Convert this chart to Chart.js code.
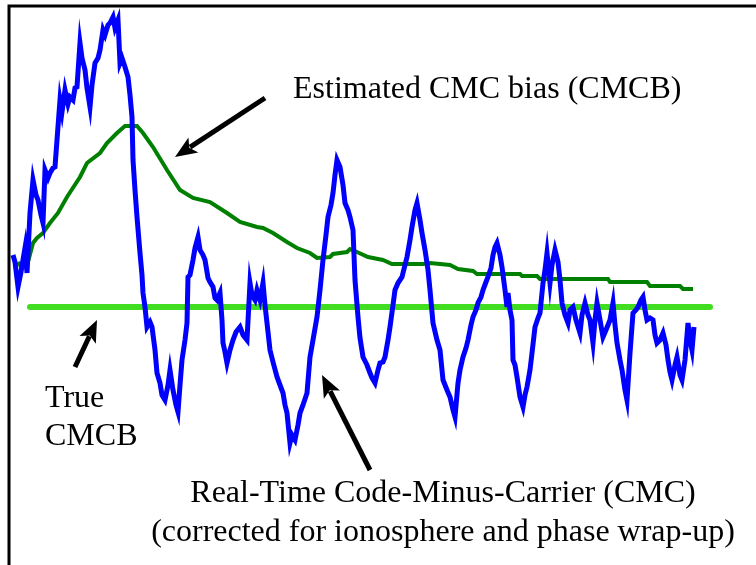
<!DOCTYPE html>
<html>
<head>
<meta charset="utf-8">
<script src="https://cdn.jsdelivr.net/npm/chart.js@4"></script>
<style>
  body { margin: 0; background: #fff; }
  canvas { display: block; }
</style>
</head>
<body>
<canvas id="cmcChart" width="756" height="565"></canvas>
<script>
// time axis (arbitrary units) and values
const cmcTime = [
  13, 15, 18, 21, 25, 27, 30, 33, 36, 38,
  41, 43, 45, 48, 50, 53, 55, 57, 60, 62,
  65, 68, 70, 73, 75, 77, 80, 82, 85, 87,
  90, 92, 95, 98, 100, 103, 105, 108, 110, 113,
  115, 118, 120, 122, 125, 128, 130, 132, 133, 135,
  137, 140, 142, 143, 145, 147, 150, 152, 155, 157,
  160, 162, 165, 168, 170, 173, 176, 178, 180, 182,
  185, 187, 188, 190, 193, 195, 198, 200, 203, 205,
  208, 210, 213, 215, 217, 220, 222, 223, 225, 227,
  230, 233, 236, 240, 243, 247, 250, 252, 255, 257,
  260, 263, 265, 267, 270, 273, 277, 280, 283, 285,
  287, 290, 292, 295, 298, 300, 303, 307, 310, 313,
  317, 320, 323, 326, 328, 331, 333, 335, 337, 340,
  343, 345, 348, 350, 353, 355, 358, 360, 363, 367,
  370, 372, 375, 378, 380, 383, 385, 388, 390, 393,
  395, 398, 402, 405, 407, 410, 412, 415, 417, 420,
  422, 425, 428, 430, 433, 437, 440, 443, 447, 450,
  453, 455, 458, 460, 463, 466, 468, 471, 473, 476,
  478, 481, 483, 486, 488, 491, 493, 495, 497, 500,
  502, 505, 507, 508, 510, 512, 513, 515, 517, 520,
  523, 525, 527, 530, 532, 535, 538, 540, 543, 545,
  547, 550, 552, 555, 558, 560, 562, 565, 568, 570,
  573, 576, 580, 582, 585, 588, 590, 593, 595, 597,
  600, 603, 606, 610, 613, 615, 617, 620, 622, 625,
  627, 630, 633, 636, 638, 641, 643, 645, 647, 650,
  653, 655, 657, 660, 663, 666, 668, 670, 672, 675,
  677, 680, 682, 685, 688, 690, 692, 694
];
const cmcValues = [
  310, 303, 278, 293, 317, 292, 352, 385, 370, 365,
  350, 342, 395, 387, 392, 397, 398, 425, 465, 453,
  475, 461, 468, 465, 477, 478, 522, 507, 495, 477,
  458, 480, 502, 507, 515, 535, 530, 540, 542, 548,
  537, 545, 502, 507, 498, 488, 470, 448, 405, 375,
  348, 312, 290, 272, 258, 238, 243, 238, 215, 192,
  182, 170, 165, 180, 195, 175, 160, 153, 180, 205,
  225, 242, 288, 290, 305, 317, 328, 315, 310, 305,
  287, 283, 278, 267, 265, 272, 245, 222, 213, 202,
  215, 225, 233, 238, 230, 225, 282, 270, 265, 275,
  265, 282, 260, 242, 215, 203, 188, 180, 172, 160,
  152, 122, 130, 125, 140, 152, 160, 172, 208, 225,
  248, 275, 305, 330, 348, 360, 372, 390, 405, 398,
  380, 362, 355, 348, 335, 285, 248, 227, 208, 200,
  192, 187, 182, 195, 202, 203, 208, 225, 238, 260,
  275, 282, 288, 300, 308, 325, 338, 355, 362, 345,
  332, 315, 295, 275, 242, 225, 215, 185, 175, 168,
  155, 148, 182, 195, 208, 217, 225, 240, 248, 255,
  262, 268, 275, 283, 288, 297, 310, 318, 322, 310,
  298, 275, 258, 272, 255, 245, 205, 200, 188, 168,
  158, 170, 178, 195, 212, 238, 247, 252, 282, 295,
  312, 282, 300, 315, 303, 285, 262, 250, 242, 255,
  258, 245, 232, 250, 262, 250, 245, 222, 245, 262,
  245, 228, 235, 245, 262, 240, 222, 205, 195, 175,
  165, 212, 252, 255, 258, 265, 268, 255, 245, 247,
  245, 230, 222, 225, 232, 220, 205, 193, 185, 200,
  208, 190, 185, 205, 242, 225, 215, 238
];

const biasTime = [
  18, 22, 28, 33, 37, 43, 50, 58, 67, 80,
  87, 100, 107, 117, 125, 137, 143, 153, 167, 180,
  193, 210, 227, 240, 257, 263, 273, 287, 297, 310,
  317, 330, 333, 347, 350, 357, 368, 383, 392, 423,
  430, 450, 458, 473, 477, 520, 522, 537, 540, 608,
  610, 647, 650, 680, 683, 693
];
const biasValues = [
  303, 297, 303, 322, 327, 332, 342, 352, 368, 388,
  402, 412, 422, 432, 439, 439, 432, 418, 395, 375,
  367, 363, 352, 343, 338, 337, 332, 323, 317, 312,
  307, 308, 311, 313, 316, 313, 308, 305, 301, 301,
  302, 300, 296, 294, 291, 291, 289, 289, 286, 286,
  283, 283, 279, 279, 276, 276
];

const trueTime = [30, 710];
const trueValues = [258, 258];

// annotations, in the same units as the data
const labels = [
  { text: "Estimated CMC bias (CMCB)", x: 293, y: 467, align: "left" },
  { text: "True", x: 45, y: 158, align: "left" },
  { text: "CMCB", x: 45, y: 120, align: "left" },
  { text: "Real-Time Code-Minus-Carrier (CMC)", x: 443, y: 63, align: "center" },
  { text: "(corrected for ionosphere and phase wrap-up)", x: 443, y: 24, align: "center" },
];
const arrows = [
  { from: [265, 467], to: [175, 408] },
  { from: [75, 198], to: [97, 245] },
  { from: [370, 95], to: [322, 190] },
];

const toPoints = (xs, ys) => xs.map((x, i) => ({ x: x, y: ys[i] }));

const annotationPlugin = {
  id: "annotations",
  afterDraw(chart) {
    const ctx = chart.ctx;
    const xs = chart.scales.x;
    const ys = chart.scales.y;
    ctx.save();

    // frame
    ctx.strokeStyle = "#000";
    ctx.lineWidth = 3;
    ctx.beginPath();
    ctx.moveTo(9, chart.height);
    ctx.lineTo(9, 6);
    ctx.lineTo(chart.width, 6);
    ctx.stroke();

    // arrows
    arrows.forEach((a) => {
      const x1 = xs.getPixelForValue(a.from[0]);
      const y1 = ys.getPixelForValue(a.from[1]);
      const x2 = xs.getPixelForValue(a.to[0]);
      const y2 = ys.getPixelForValue(a.to[1]);
      const ang = Math.atan2(y2 - y1, x2 - x1);
      const headLen = 22;
      const headW = 9;
      const bx = x2 - headLen * Math.cos(ang);
      const by = y2 - headLen * Math.sin(ang);
      ctx.strokeStyle = "#000";
      ctx.fillStyle = "#000";
      ctx.lineWidth = 5;
      ctx.lineCap = "butt";
      ctx.beginPath();
      ctx.moveTo(x1, y1);
      ctx.lineTo(bx + 4 * Math.cos(ang), by + 4 * Math.sin(ang));
      ctx.stroke();
      ctx.beginPath();
      ctx.moveTo(x2, y2);
      ctx.lineTo(bx + headW * Math.sin(ang), by - headW * Math.cos(ang));
      ctx.lineTo(bx + 5 * Math.cos(ang), by + 5 * Math.sin(ang));
      ctx.lineTo(bx - headW * Math.sin(ang), by + headW * Math.cos(ang));
      ctx.closePath();
      ctx.fill();
    });

    // text
    ctx.fillStyle = "#000";
    ctx.font = "32px 'Liberation Serif', serif";
    ctx.textBaseline = "alphabetic";
    labels.forEach((l) => {
      ctx.textAlign = l.align;
      ctx.fillText(l.text, xs.getPixelForValue(l.x), ys.getPixelForValue(l.y));
    });
    ctx.restore();
  },
};

new Chart(document.getElementById("cmcChart").getContext("2d"), {
  type: "line",
  data: {
    datasets: [
      {
        label: "Real-Time CMC",
        data: toPoints(cmcTime, cmcValues),
        borderColor: "#0000ff",
        borderWidth: 5,
        pointRadius: 0,
        tension: 0,
      },
      {
        label: "Estimated CMCB",
        data: toPoints(biasTime, biasValues),
        borderColor: "#008000",
        borderWidth: 4,
        pointRadius: 0,
        tension: 0,
      },
      {
        label: "True CMCB",
        data: toPoints(trueTime, trueValues),
        borderColor: "#40dd20",
        borderWidth: 6,
        borderCapStyle: "round",
        pointRadius: 0,
      },
    ],
  },
  options: {
    responsive: false,
    animation: false,
    layout: { padding: 0 },
    plugins: {
      legend: { display: false },
      tooltip: { enabled: false },
    },
    scales: {
      x: { type: "linear", min: 0, max: 756, display: false },
      y: { type: "linear", min: 0, max: 565, display: false },
    },
  },
  plugins: [annotationPlugin],
});
</script>
</body>
</html>
